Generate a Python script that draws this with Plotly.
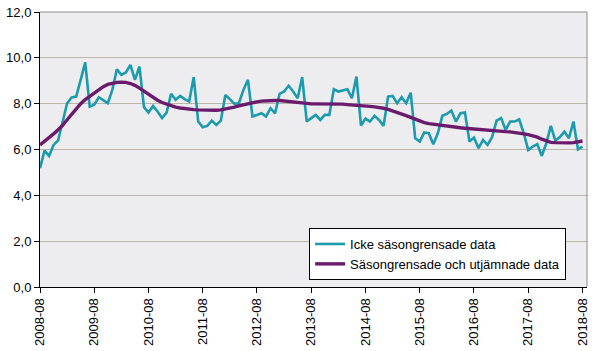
import plotly.graph_objects as go

# Monthly categories 2008-08 .. 2018-08
months = []
y, m = 2008, 8
for _ in range(121):
    months.append(f"{y}-{m:02d}")
    m += 1
    if m > 12:
        m = 1
        y += 1

tick_labels = ["2008-08", "2009-08", "2010-08", "2011-08", "2012-08", "2013-08",
               "2014-08", "2015-08", "2016-08", "2017-08", "2018-08"]

icke = [5.18, 5.95, 5.72, 6.20, 6.39, 7.22, 8.02, 8.27, 8.31, 9.04, 9.80, 7.87,
        7.95, 8.28, 8.14, 8.02, 8.60, 9.50, 9.26, 9.36, 9.69, 9.04, 9.62, 7.85,
        7.61, 7.90, 7.66, 7.37, 7.61, 8.43, 8.17, 8.34, 8.20, 8.09, 9.16, 7.22,
        6.97, 7.03, 7.26, 7.07, 7.26, 8.38, 8.20, 7.99, 8.02, 8.60, 9.04, 7.44,
        7.51, 7.58, 7.44, 7.80, 7.58, 8.43, 8.53, 8.78, 8.53, 8.24, 9.16, 7.22,
        7.37, 7.51, 7.29, 7.51, 7.51, 8.63, 8.53, 8.57, 8.63, 8.24, 9.18, 7.05,
        7.35, 7.22, 7.47, 7.29, 7.03, 8.31, 8.34, 8.02, 8.28, 8.02, 8.48, 6.49,
        6.35, 6.74, 6.71, 6.23, 6.71, 7.47, 7.55, 7.70, 7.22, 7.58, 7.61, 6.35,
        6.52, 6.06, 6.42, 6.20, 6.54, 7.26, 7.37, 6.86, 7.22, 7.22, 7.32, 6.71,
        5.98, 6.13, 6.24, 5.72, 6.27, 7.03, 6.39, 6.54, 6.78, 6.49, 7.22, 6.01,
        6.13]

sasong = [6.20, 6.35, 6.50, 6.68, 6.86, 7.05, 7.30, 7.55, 7.80, 8.00, 8.18, 8.33,
          8.48, 8.62, 8.74, 8.84, 8.90, 8.93, 8.94, 8.93, 8.88, 8.80, 8.68, 8.54,
          8.40, 8.27, 8.15, 8.05, 7.97, 7.90, 7.85, 7.81, 7.78, 7.76, 7.74, 7.73,
          7.72, 7.71, 7.71, 7.71, 7.73, 7.76, 7.80, 7.85, 7.90, 7.95, 7.99, 8.04,
          8.08, 8.11, 8.13, 8.14, 8.14, 8.14, 8.12, 8.09, 8.06, 8.03, 8.01, 8.00,
          7.99, 7.99, 7.99, 8.00, 8.00, 8.00, 7.99, 7.98, 7.96, 7.95, 7.93, 7.91,
          7.90, 7.88, 7.86, 7.84, 7.80, 7.75, 7.69, 7.62, 7.55, 7.48, 7.40, 7.32,
          7.24, 7.17, 7.13, 7.10, 7.08, 7.06, 7.03, 7.00, 6.97, 6.95, 6.93, 6.91,
          6.89, 6.87, 6.85, 6.83, 6.81, 6.80, 6.79, 6.78, 6.77, 6.75, 6.72, 6.68,
          6.65, 6.60, 6.54, 6.45, 6.37, 6.31, 6.30, 6.29, 6.29, 6.29, 6.30, 6.33,
          6.37]

x = list(range(len(months)))
tickvals = [months.index(t) for t in tick_labels]

fig = go.Figure()
fig.add_trace(go.Scatter(x=x, y=icke, mode="lines", name="Icke säsongrensade data",
                         line=dict(color="#1B9BAD", width=2.6), customdata=months,
                         hovertemplate="%{customdata}: %{y}<extra></extra>"))
fig.add_trace(go.Scatter(x=x, y=sasong, mode="lines", name="Säsongrensade och utjämnade data",
                         line=dict(color="#6A1B6C", width=3.4), customdata=months,
                         hovertemplate="%{customdata}: %{y}<extra></extra>"))

grid_col = "#BEB4AA"
fig.update_layout(
    width=598, height=351,
    margin=dict(l=40, r=11, t=12, b=64),
    paper_bgcolor="white",
    plot_bgcolor="#EDEDF0",
    separators=", ",
    font=dict(family="Liberation Sans, Arial, sans-serif", size=13, color="black"),
    showlegend=True,
    legend=dict(x=0.492, y=0.2145, xanchor="left", yanchor="top",
                bgcolor="white", bordercolor="black", borderwidth=1,
                font=dict(size=13), tracegroupgap=0, itemwidth=30),
    xaxis=dict(range=[0, 121], tickvals=tickvals, ticktext=tick_labels,
               tickangle=-90, showgrid=False, zeroline=False, automargin=False,
               showline=True, linecolor="black", linewidth=1,
               ticks="outside", ticklen=5, tickcolor="black"),
    yaxis=dict(range=[0, 12], dtick=2, tickformat=".1f", automargin=False,
               showgrid=True, gridcolor=grid_col, gridwidth=1, zeroline=False,
               showline=True, linecolor="black", linewidth=1,
               ticks="outside", ticklen=5, tickcolor="black"),
    shapes=[
        dict(type="line", xref="paper", yref="paper", x0=1, x1=1, y0=0, y1=1,
             line=dict(color="#8C8C8C", width=1)),
        dict(type="line", xref="paper", yref="paper", x0=0, x1=1, y0=1, y1=1,
             line=dict(color="#8C8C8C", width=1)),
    ],
)

fig.write_html("out.html")
